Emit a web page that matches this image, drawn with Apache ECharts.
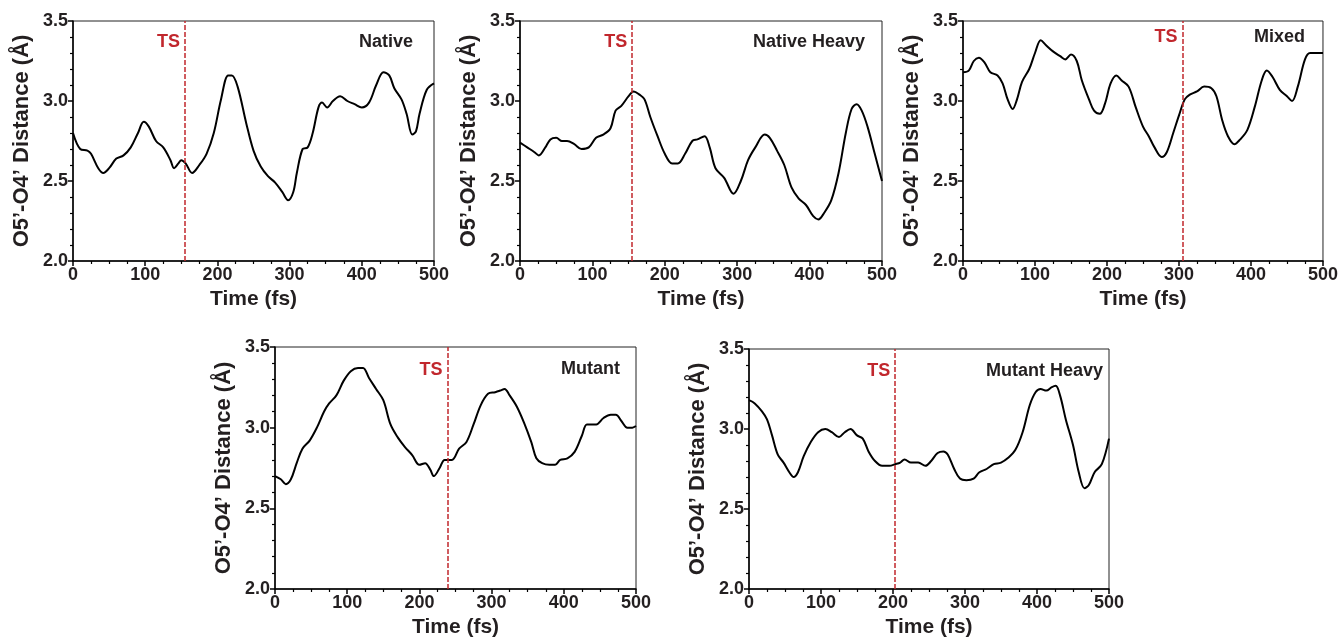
<!DOCTYPE html>
<html>
<head>
<meta charset="utf-8">
<script src="https://cdn.jsdelivr.net/npm/echarts@6/dist/echarts.min.js"></script>
<style>
html,body{margin:0;padding:0;background:#fff;}
#c{width:1341px;height:639px;}
</style>
</head>
<body>
<div id="c"></div>
<script>
// ---------- data ----------
const panelNames = ['Native', 'Native Heavy', 'Mixed', 'Mutant', 'Mutant Heavy'];
const tsTimes = [155, 155, 305, 239, 203];
const xTicks = [0, 100, 200, 300, 400, 500];
const yTicks = [2.0, 2.5, 3.0, 3.5];

const nativeT = [0,10,20,25,35,42,50,60,70,80,90,98,105,115,125,135,140,146,150,156,165,175,185,195,205,215,220,228,240,250,260,270,280,290,298,305,310,318,325,332,340,345,352,360,370,380,390,400,410,420,430,438,445,455,462,470,475,480,490,500];
const nativeV = [2.80,2.70,2.69,2.67,2.58,2.55,2.58,2.64,2.66,2.71,2.80,2.87,2.84,2.75,2.71,2.63,2.58,2.61,2.63,2.61,2.55,2.60,2.67,2.80,3.01,3.16,3.16,3.09,2.86,2.69,2.59,2.53,2.49,2.43,2.38,2.43,2.55,2.70,2.71,2.80,2.96,2.99,2.96,3.00,3.03,3.00,2.98,2.96,2.99,3.10,3.18,3.16,3.08,3.01,2.92,2.79,2.81,2.92,3.07,3.11];

const nativeHeavyT = [0,10,20,26,35,42,50,58,65,75,85,95,105,115,125,132,140,150,157,165,172,180,190,200,210,218,228,238,245,255,262,270,282,295,305,315,325,338,345,355,365,375,385,395,405,412,420,430,440,450,458,465,472,480,490,500];
const nativeHeavyV = [2.74,2.71,2.68,2.66,2.71,2.76,2.77,2.75,2.75,2.73,2.70,2.71,2.77,2.79,2.83,2.94,2.97,3.03,3.06,3.04,3.01,2.90,2.78,2.67,2.61,2.61,2.67,2.75,2.76,2.78,2.71,2.58,2.52,2.42,2.50,2.63,2.71,2.79,2.77,2.69,2.60,2.46,2.39,2.35,2.28,2.26,2.30,2.38,2.55,2.80,2.95,2.98,2.94,2.84,2.67,2.50];

const mixedT = [0,8,15,22,30,38,48,55,62,69,75,82,92,100,108,115,125,135,142,150,158,165,175,182,190,197,205,213,220,230,240,250,258,266,276,283,292,300,308,315,325,335,345,352,360,368,377,385,395,405,415,422,430,440,450,457,465,475,482,490,500];
const mixedV = [3.18,3.19,3.25,3.27,3.24,3.18,3.16,3.11,3.01,2.95,3.01,3.12,3.20,3.30,3.38,3.35,3.31,3.28,3.26,3.29,3.25,3.13,3.01,2.94,2.92,2.98,3.11,3.16,3.13,3.09,2.96,2.84,2.78,2.71,2.65,2.68,2.80,2.91,3.01,3.04,3.06,3.09,3.08,3.03,2.88,2.78,2.73,2.76,2.82,2.96,3.13,3.19,3.15,3.07,3.03,3.00,3.09,3.26,3.30,3.30,3.30];

const mutantT = [0,8,15,22,30,38,48,58,68,75,85,95,105,115,122,130,140,150,160,170,180,190,200,208,215,220,228,235,245,255,265,275,285,295,305,312,318,325,335,345,355,362,370,380,388,395,405,415,425,432,440,445,455,465,472,480,488,495,500];
const mutantV = [2.70,2.68,2.65,2.68,2.78,2.87,2.92,3.00,3.10,3.15,3.20,3.29,3.35,3.37,3.37,3.31,3.24,3.17,3.02,2.94,2.88,2.83,2.77,2.78,2.74,2.70,2.75,2.80,2.80,2.87,2.91,3.02,3.14,3.21,3.22,3.23,3.24,3.20,3.13,3.03,2.91,2.81,2.78,2.77,2.77,2.80,2.81,2.85,2.95,3.02,3.02,3.02,3.06,3.08,3.08,3.04,3.00,3.00,3.01];

const mutantHeavyT = [0,8,18,25,32,40,48,56,62,68,76,86,96,106,115,125,133,141,150,158,166,175,185,195,203,210,216,225,235,245,253,262,270,276,285,293,302,312,320,330,340,350,360,370,380,390,398,405,413,420,426,432,440,450,458,466,472,480,490,500];
const mutantHeavyV = [3.18,3.16,3.11,3.06,2.96,2.84,2.79,2.73,2.70,2.73,2.83,2.92,2.98,3.00,2.98,2.95,2.98,3.00,2.96,2.94,2.86,2.80,2.77,2.77,2.78,2.79,2.81,2.79,2.79,2.77,2.80,2.85,2.86,2.84,2.75,2.69,2.68,2.69,2.73,2.75,2.78,2.79,2.82,2.87,2.98,3.15,3.23,3.25,3.24,3.26,3.27,3.21,3.06,2.90,2.73,2.63,2.65,2.73,2.78,2.94];

const seriesT = [nativeT, nativeHeavyT, mixedT, mutantT, mutantHeavyT];
const seriesV = [nativeV, nativeHeavyV, mixedV, mutantV, mutantHeavyV];

// ---------- layout / style ----------
const grids = [
  {left: 73,  top: 21,  width: 361, height: 240},
  {left: 520, top: 21,  width: 362, height: 240},
  {left: 963, top: 21,  width: 362, height: 240},
  {left: 275, top: 347, width: 361, height: 242},
  {left: 749, top: 349, width: 360, height: 240}
];
const titlePos = [
  {right: 928, top: 32},
  {right: 476, top: 32},
  {right: 36,  top: 27},
  {right: 721, top: 359},
  {right: 238, top: 361}
];
const tsLabelY = [3.37, 3.37, 3.40, 3.36, 3.36];

const FONT = '"Liberation Sans", Arial, Helvetica, sans-serif';
const INK = '#231f20';
const RED = '#c1272d';

const option = {
  animation: false,
  backgroundColor: '#fff',
  title: [], grid: [], xAxis: [], yAxis: [], series: []
};

for (let i = 0; i < 5; i++) {
  option.grid.push(Object.assign({show: true, borderColor: '#222', borderWidth: 1, containLabel: false}, grids[i]));
  option.title.push({
    text: panelNames[i], right: titlePos[i].right, top: titlePos[i].top, padding: 0,
    textStyle: {fontFamily: FONT, fontWeight: 'bold', fontSize: 18, color: INK, lineHeight: 20}
  });
  option.xAxis.push({
    type: 'value', gridIndex: i, min: xTicks[0], max: xTicks[xTicks.length - 1], interval: 100,
    name: 'Time (fs)', nameLocation: 'middle', nameGap: 28,
    nameTextStyle: {fontFamily: FONT, fontWeight: 'bold', fontSize: 21, color: INK},
    axisLine: {show: true, onZero: false, lineStyle: {color: '#000', width: 1.5}},
    axisTick: {show: true, inside: false, length: 5, lineStyle: {color: '#000', width: 1.5}},
    minorTick: {show: true, splitNumber: 4, length: 3, lineStyle: {color: '#000', width: 1.2}},
    axisLabel: {fontFamily: FONT, fontWeight: 'bold', fontSize: 18, color: INK, margin: 5},
    splitLine: {show: false}
  });
  option.yAxis.push({
    type: 'value', gridIndex: i, min: yTicks[0], max: yTicks[yTicks.length - 1], interval: 0.5,
    name: 'O5’-O4’ Distance (Å)', nameLocation: 'middle', nameGap: 40, nameRotate: 90,
    nameTextStyle: {fontFamily: FONT, fontWeight: 'bold', fontSize: 22, color: INK},
    axisLine: {show: true, onZero: false, lineStyle: {color: '#000', width: 1.5}},
    axisTick: {show: true, inside: false, length: 5, lineStyle: {color: '#000', width: 1.5}},
    minorTick: {show: true, splitNumber: 5, length: 3, lineStyle: {color: '#000', width: 1.2}},
    axisLabel: {fontFamily: FONT, fontWeight: 'bold', fontSize: 18, color: INK, margin: 5,
      formatter: v => v.toFixed(1)},
    splitLine: {show: false}
  });
  const data = seriesT[i].map((t, k) => [t, seriesV[i][k]]);
  option.series.push({
    type: 'line', xAxisIndex: i, yAxisIndex: i, data: data, smooth: 0.35,
    showSymbol: false, symbol: 'none',
    lineStyle: {color: '#000', width: 2},
    markLine: {
      silent: true, symbol: 'none', animation: false,
      lineStyle: {color: RED, width: 1.5, type: [5, 2]},
      label: {show: false},
      data: [{xAxis: tsTimes[i]}]
    },
    markPoint: {
      silent: true, symbol: 'rect', symbolSize: 0, animation: false,
      label: {show: true, position: 'left', distance: 5, formatter: 'TS',
        fontFamily: FONT, fontWeight: 'bold', fontSize: 18, color: RED},
      data: [{coord: [tsTimes[i], tsLabelY[i]]}]
    }
  });
}

const chart = echarts.init(document.getElementById('c'), null, {renderer: 'canvas'});
chart.setOption(option);
</script>
</body>
</html>
